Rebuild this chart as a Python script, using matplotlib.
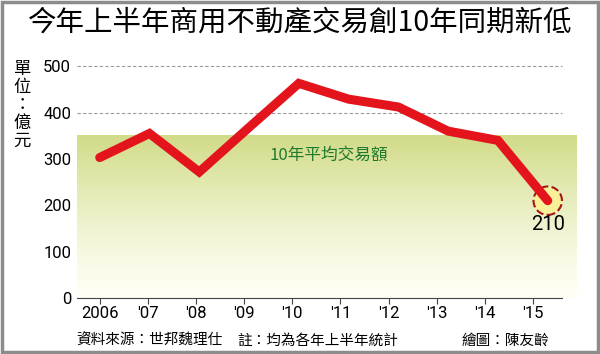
import numpy as np
import matplotlib.pyplot as plt
from matplotlib.patches import Rectangle

plt.rcParams['font.family'] = ['Noto Sans CJK TC', 'DejaVu Sans']

# data (億元)
years = [2006, 2007, 2008, 2009, 2010, 2011, 2012, 2013, 2014, 2015]
values = [303, 355, 272, 368, 463, 429, 412, 360, 340, 210]
xlabels = ['2006', "'07", "'08", "'09", "'10", "'11", "'12", "'13", "'14", "'15"]
avg10 = 350

fig = plt.figure(figsize=(6, 3.54), dpi=100)
ax = fig.add_axes([0.128, 0.158, 0.833, 0.672])
x0, x1 = 2005.54, 2015.58
ax.set_xlim(x0, x1)
ax.set_ylim(0, 513)

# dashed grid lines
for y in [100, 200, 300, 400, 500]:
    ax.axhline(y, xmax=0.97, color='#9a9a9a', lw=0.8, ls=(0, (3, 2)), zorder=0)

# gradient band for 10-year average
grad = np.linspace(0, 1, 256).reshape(-1, 1) ** 1.3
top = np.array([0.82, 0.86, 0.53])
bot = np.array([1.0, 1.0, 0.96])
cols = bot[None, :] + (top - bot)[None, :] * grad
ax.imshow(cols[:, None, :], extent=[x0, x1, 0, avg10], origin='lower',
          aspect='auto', zorder=1)
ax.text(2010.6, 307, '10年平均交易額', color='#1d7a2c', fontsize=12,
        ha='center', va='center', zorder=2)

# highlight last point
ax.scatter([years[-1]], [values[-1]], s=420, facecolor='#faf09a',
           edgecolor='#a01818', linewidth=1.5, linestyle='--', zorder=3)
ax.plot(years, values, color='#e3141b', lw=6.5, solid_capstyle='round',
        solid_joinstyle='miter', zorder=4)
ax.text(years[-1], values[-1] - 52, '210', fontsize=14.5, ha='center',
        va='center', family='Roboto', zorder=5)

# tick marks in the original sit slightly tighter than the data points
tickpos = [2006 + (y - 2006) * 0.967 for y in years]
ax.set_xticks(tickpos)
ax.set_xticklabels(xlabels, fontsize=12, family='Roboto')
ax.set_yticks([0, 100, 200, 300, 400, 500])
ax.set_yticklabels(['0', '100', '200', '300', '400', '500'], fontsize=12,
                   family='Roboto')
ax.tick_params(axis='y', length=0, pad=4)
ax.tick_params(axis='x', length=4, direction='out', color='#444444', pad=2)
for s in ['left', 'right', 'top']:
    ax.spines[s].set_visible(False)
ax.spines['bottom'].set_color('#444444')
ax.spines['bottom'].set_bounds(x0, 2015.28)

fig.text(0.5, 0.935, '今年上半年商用不動產交易創10年同期新低', fontsize=20.5,
         ha='center', va='center')
fig.text(0.037, 0.83, '單\n位\n：\n億\n元', fontsize=12.5, ha='center',
         va='top', linespacing=1.0)
fig.text(0.128, 0.037, '資料來源：世邦魏理仕', fontsize=10.5, va='center')
fig.text(0.395, 0.037, '註：均為各年上半年統計', fontsize=10.5, va='center')
fig.text(0.77, 0.037, '繪圖：陳友齡', fontsize=10.5, va='center')

fig.patches.append(Rectangle((0.003, 0.005), 0.994, 0.99, transform=fig.transFigure,
                             fill=False, edgecolor='#8c8c8c', lw=2.5))

fig.savefig('out.png', dpi=100)
